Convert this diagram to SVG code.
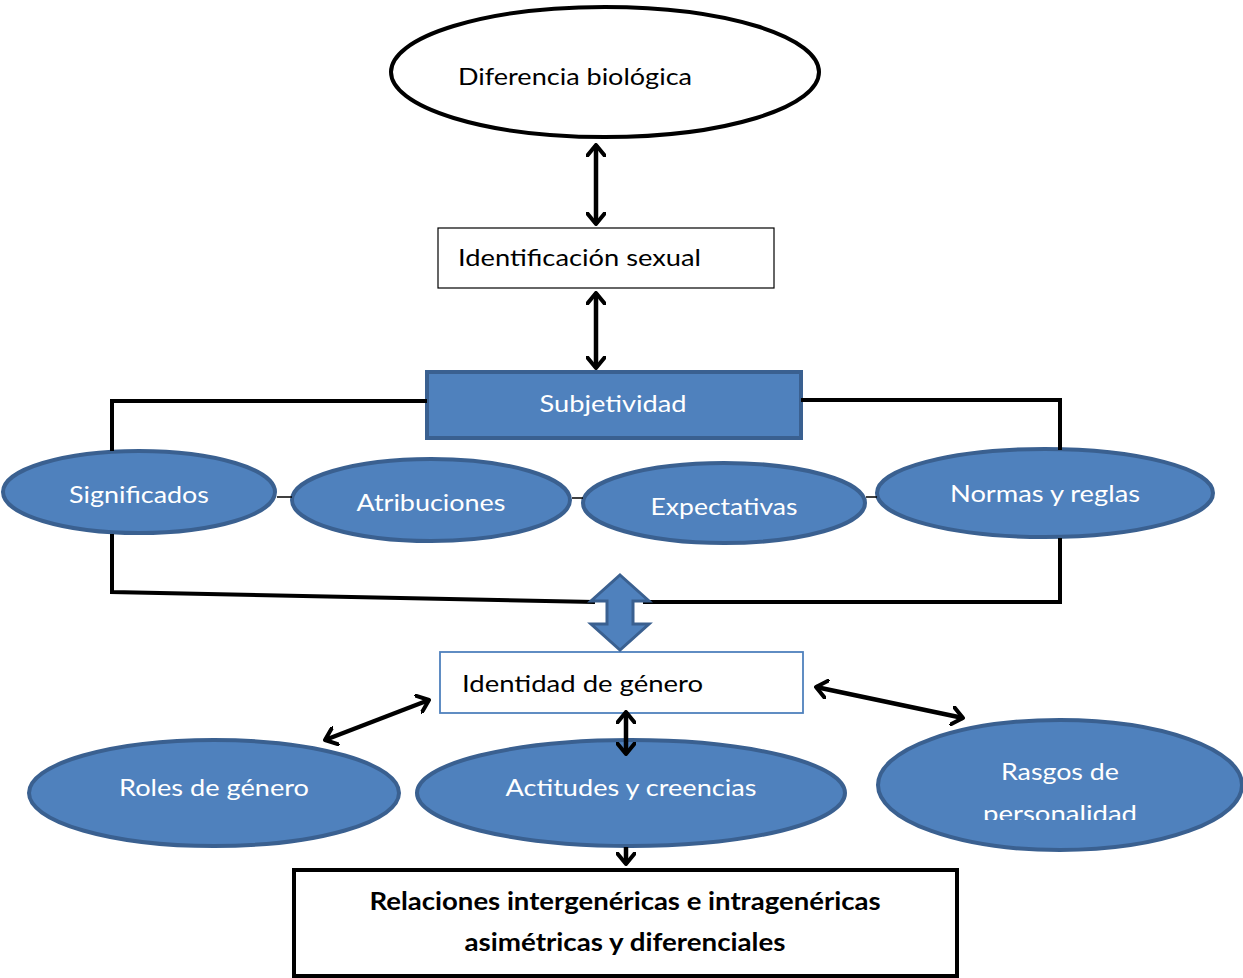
<svg xmlns="http://www.w3.org/2000/svg" width="1243" height="978" viewBox="0 0 1243 978">
<style>
  .t{font-family:Lato,"Open Sans","Liberation Sans",sans-serif;font-size:24px;fill:#000}
  .w{font-family:Lato,"Open Sans","Liberation Sans",sans-serif;font-size:24px;fill:#fff}
  .b{font-family:Lato,"Open Sans","Liberation Sans",sans-serif;font-size:24px;font-weight:bold;fill:#000}
  .blue{fill:#4F81BD;stroke:#3A6090;stroke-width:4}
  .arr{stroke:#000;stroke-width:4.5;fill:none;marker-start:url(#h);marker-end:url(#h)}
  .br{stroke:#000;stroke-width:4;fill:none}
  .thin{stroke:#000;stroke-width:1.5}
</style>
<defs>
  <marker id="h" viewBox="0 0 14 20" refX="12" refY="10" markerWidth="14" markerHeight="20" markerUnits="userSpaceOnUse" orient="auto-start-reverse">
    <polyline points="1,1 12,10 1,19" fill="none" stroke="#000" stroke-width="4" stroke-linecap="round" stroke-linejoin="round"/>
  </marker>
  <marker id="h1" viewBox="0 0 14 20" refX="12" refY="10" markerWidth="14" markerHeight="20" markerUnits="userSpaceOnUse" orient="auto">
    <polyline points="1,1 12,10 1,19" fill="none" stroke="#000" stroke-width="4" stroke-linecap="round" stroke-linejoin="round"/>
  </marker>
  <clipPath id="rclip"><rect x="860" y="700" width="383" height="120"/></clipPath>
</defs>
<rect width="1243" height="978" fill="#fff"/>

<g id="n-diferencia">
  <ellipse cx="605" cy="72" rx="214" ry="65" fill="#fff" stroke="#000" stroke-width="4"/>
  <text class="t" x="458" y="85" textLength="234" lengthAdjust="spacingAndGlyphs">Diferencia biológica</text>
</g>

<g id="n-identificacion">
  <rect x="438" y="228" width="336" height="60" fill="#fff" stroke="#000" stroke-width="1.2"/>
  <text class="t" x="458" y="266" textLength="243" lengthAdjust="spacingAndGlyphs">Identificación sexual</text>
</g>

<g id="n-subjetividad">
  <rect class="blue" x="427" y="372" width="374" height="66"/>
  <text class="w" x="613" y="412" text-anchor="middle" textLength="147" lengthAdjust="spacingAndGlyphs">Subjetividad</text>
</g>

<g id="n-significados">
  <ellipse class="blue" cx="139" cy="492" rx="136" ry="41"/>
  <text class="w" x="139" y="503" text-anchor="middle" textLength="140" lengthAdjust="spacingAndGlyphs">Significados</text>
</g>

<g id="n-atribuciones">
  <ellipse class="blue" cx="431" cy="500" rx="139" ry="41"/>
  <text class="w" x="431" y="511" text-anchor="middle" textLength="149" lengthAdjust="spacingAndGlyphs">Atribuciones</text>
</g>

<g id="n-expectativas">
  <ellipse class="blue" cx="724" cy="503" rx="141" ry="40"/>
  <text class="w" x="724" y="515" text-anchor="middle" textLength="147" lengthAdjust="spacingAndGlyphs">Expectativas</text>
</g>

<g id="n-normas">
  <ellipse class="blue" cx="1045" cy="493" rx="168" ry="44"/>
  <text class="w" x="1045" y="502" text-anchor="middle" textLength="190" lengthAdjust="spacingAndGlyphs">Normas y reglas</text>
</g>

<g id="n-identidad">
  <rect x="440" y="652" width="363" height="61" fill="#fff" stroke="#4F81BD" stroke-width="1.8"/>
  <text class="t" x="462" y="692" textLength="241" lengthAdjust="spacingAndGlyphs">Identidad de género</text>
</g>

<g id="n-roles">
  <ellipse class="blue" cx="214" cy="793" rx="185" ry="53"/>
  <text class="w" x="214" y="796" text-anchor="middle" textLength="190" lengthAdjust="spacingAndGlyphs">Roles de género</text>
</g>

<g id="n-actitudes">
  <ellipse class="blue" cx="631" cy="793" rx="214" ry="53"/>
  <text class="w" x="631" y="796" text-anchor="middle" textLength="251" lengthAdjust="spacingAndGlyphs">Actitudes y creencias</text>
</g>

<g id="n-rasgos">
  <ellipse class="blue" cx="1060" cy="785" rx="182" ry="65"/>
  <g clip-path="url(#rclip)">
    <text class="w" x="1060" y="780" text-anchor="middle" textLength="118" lengthAdjust="spacingAndGlyphs">Rasgos de</text>
    <text class="w" x="1060" y="822" text-anchor="middle" textLength="154" lengthAdjust="spacingAndGlyphs">personalidad</text>
  </g>
</g>

<g id="n-relaciones">
  <rect x="294" y="870" width="663" height="106" fill="#fff" stroke="#000" stroke-width="4"/>
  <text class="b" x="625" y="910" text-anchor="middle" textLength="511" lengthAdjust="spacingAndGlyphs">Relaciones intergenéricas e intragenéricas</text>
  <text class="b" x="625" y="951" text-anchor="middle" textLength="321" lengthAdjust="spacingAndGlyphs">asimétricas y diferenciales</text>
</g>

<g id="connectors">
  <line class="arr" x1="596" y1="145" x2="596" y2="224"/>
  <line class="arr" x1="596" y1="293" x2="596" y2="368"/>
  <polyline class="br" points="427,401 112,401 112,451"/>
  <polyline class="br" points="801,400 1060,400 1060,450"/>
  <polyline class="br" points="112,534 112,592 595,602"/>
  <polyline class="br" points="643,602 1060,602 1060,538"/>
  <line class="thin" x1="277" y1="497" x2="292" y2="497"/>
  <line class="thin" x1="572" y1="498" x2="583" y2="498"/>
  <line class="thin" x1="866" y1="497" x2="877" y2="497"/>
  <polygon class="blue" style="stroke-width:3" points="620,575 649,601 633,601 633,624 649,624 620,650 591,624 607,624 607,601 591,601"/>
  <line class="arr" x1="429" y1="700" x2="325" y2="740"/>
  <line class="arr" x1="816" y1="687" x2="963" y2="718"/>
  <line class="arr" x1="626" y1="712" x2="626" y2="754"/>
  <line stroke="#000" stroke-width="4.5" x1="626" y1="847" x2="626" y2="864" marker-end="url(#h1)"/>
</g>
</svg>
